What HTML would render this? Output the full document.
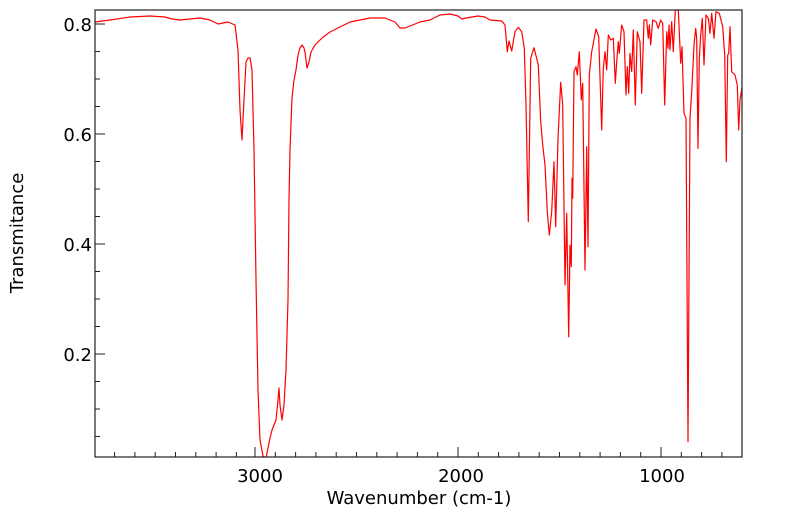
<!DOCTYPE html>
<html><head><style>
html,body{margin:0;padding:0;background:#fff;}
svg{display:block;}
text{font-family:"DejaVu Sans","Liberation Sans",sans-serif;}
</style></head><body>
<svg width="799" height="516" xmlns="http://www.w3.org/2000/svg">
<rect x="0" y="0" width="799" height="516" fill="#fff"/>
<defs><clipPath id="c"><rect x="95" y="10" width="647" height="447"/></clipPath></defs>
<polyline clip-path="url(#c)" fill="none" stroke="#ff0000" stroke-width="1.2" stroke-linejoin="round" points="
95,22 110,20 130,17 150,16 165,17 172,19 180,20 190,19 200,18 210,20 218,24 228,22 235,25 238,50 240,110 242,140 244,100 246,62 248,58 250,58 252,70 254,150 256,280 258,390 260,440 263,456 266,458 268,448 270,438 272,430 276,420 278,400 279,388 280,405 282,420 284,405 286,370 288,300 289,200 290,150 292,98 294,80 296,70 298,55 300,48 302,45 304,48 305,52 307,68 309,62 311,52 315,45 322,38 330,32 340,27 350,22 360,20 370,18 385,18 395,22 400,28 405,28 410,26 420,22 430,20 440,15 450,14 458,16 462,19 466,18 472,17 478,16 485,17 490,20 501.7,21 505,25 507.3,51.7 509,41 511.7,51 515,31.7 518.3,27.3 521.7,31.7 524.3,48.3 526,105 528.3,221.7 530.7,58.3 534,47.7 538.3,65 540.7,121.7 542.7,145 545,165 547.3,211.7 549.3,235 551.7,211.7 554,161.7 555.7,226.7 558,138.3 560.7,82.3 562.7,105 565,285 566.7,213.3 568.7,336.7 570,245 571.3,266.7 572,178.3 572.7,198.3 574,71.7 576,66.7 577.3,75 579.3,51.7 581.3,100 582.7,83.3 585,270 586.7,146.7 588,246.7 589.3,75 591.7,51.7 596,29 598.7,36.7 601.7,130 603.3,68.3 605,51.7 606.7,70 608.3,35 610.7,40 613.3,38.3 615.3,83.3 616.7,61.7 618.3,41.7 619.3,53.3 621.7,25 624,31.7 626,95 627.3,66.7 628.7,93.3 630,53.3 631.7,71.7 633.3,30 635.3,105 637.3,31.7 640,41.7 641.7,93.3 644,20 646.7,20 648.3,38.3 649.3,25 650.7,45 652.7,20 656,21.7 658.3,28.3 660.7,20 662.7,23.3 664.7,105 666.7,31.7 668,48.3 669,25 670,50 671.7,21.7 673.3,51.7 675.3,10 678.3,10 680.7,63.3 682,46.7 684,113.3 686,118.3 688,441.7 690,118.3 691.7,91.7 694,45 695.7,28.3 696.7,38.3 698,148.3 699.3,58.3 700.7,35 702.3,18.3 704,65 706,15 708.3,18.3 710,33.3 711.7,13.3 714,38.3 716,11.7 719.3,13.3 722.7,26.7 724.7,55 726.3,161.7 727.7,55 728.7,53.3 730,26.7 731.7,71.7 735,75 737.3,85 738.7,130 740,100 742.7,83.3"/>
<rect x="95" y="10" width="647" height="447" fill="none" stroke="#222" stroke-width="1.2"/>
<g stroke="#222" stroke-width="1">
<line x1="255" y1="457" x2="255" y2="447"/><line x1="458" y1="457" x2="458" y2="447"/><line x1="661" y1="457" x2="661" y2="447"/>
<line x1="114.6" y1="457" x2="114.6" y2="452"/><line x1="134.9" y1="457" x2="134.9" y2="452"/><line x1="155.2" y1="457" x2="155.2" y2="452"/><line x1="175.5" y1="457" x2="175.5" y2="452"/><line x1="195.8" y1="457" x2="195.8" y2="452"/><line x1="216.1" y1="457" x2="216.1" y2="452"/><line x1="236.4" y1="457" x2="236.4" y2="452"/>
<line x1="275.3" y1="457" x2="275.3" y2="452"/><line x1="295.6" y1="457" x2="295.6" y2="452"/><line x1="315.9" y1="457" x2="315.9" y2="452"/><line x1="336.2" y1="457" x2="336.2" y2="452"/><line x1="356.5" y1="457" x2="356.5" y2="452"/><line x1="376.8" y1="457" x2="376.8" y2="452"/><line x1="397.1" y1="457" x2="397.1" y2="452"/><line x1="417.4" y1="457" x2="417.4" y2="452"/><line x1="437.7" y1="457" x2="437.7" y2="452"/>
<line x1="478.3" y1="457" x2="478.3" y2="452"/><line x1="498.6" y1="457" x2="498.6" y2="452"/><line x1="518.9" y1="457" x2="518.9" y2="452"/><line x1="539.2" y1="457" x2="539.2" y2="452"/><line x1="559.5" y1="457" x2="559.5" y2="452"/><line x1="579.8" y1="457" x2="579.8" y2="452"/><line x1="600.1" y1="457" x2="600.1" y2="452"/><line x1="620.4" y1="457" x2="620.4" y2="452"/><line x1="640.7" y1="457" x2="640.7" y2="452"/>
<line x1="681.3" y1="457" x2="681.3" y2="452"/><line x1="701.6" y1="457" x2="701.6" y2="452"/><line x1="721.9" y1="457" x2="721.9" y2="452"/>
<line x1="95" y1="24" x2="105" y2="24"/><line x1="95" y1="134" x2="105" y2="134"/><line x1="95" y1="244" x2="105" y2="244"/><line x1="95" y1="354" x2="105" y2="354"/>
<line x1="95" y1="51.5" x2="100" y2="51.5"/><line x1="95" y1="79" x2="100" y2="79"/><line x1="95" y1="106.5" x2="100" y2="106.5"/>
<line x1="95" y1="161.5" x2="100" y2="161.5"/><line x1="95" y1="189" x2="100" y2="189"/><line x1="95" y1="216.5" x2="100" y2="216.5"/>
<line x1="95" y1="271.5" x2="100" y2="271.5"/><line x1="95" y1="299" x2="100" y2="299"/><line x1="95" y1="326.5" x2="100" y2="326.5"/>
<line x1="95" y1="381.5" x2="100" y2="381.5"/><line x1="95" y1="409" x2="100" y2="409"/><line x1="95" y1="436.5" x2="100" y2="436.5"/>
</g>
<g font-size="18" fill="#000" text-anchor="middle">
<text x="260" y="482">3000</text><text x="461" y="482">2000</text><text x="662" y="482">1000</text>
<text x="419" y="504">Wavenumber (cm-1)</text>
</g>
<g font-size="18" fill="#000" text-anchor="end">
<text x="92" y="31">0.8</text><text x="92" y="141">0.6</text><text x="92" y="251">0.4</text><text x="92" y="361">0.2</text>
</g>
<text x="23" y="233" font-size="18" fill="#000" text-anchor="middle" transform="rotate(-90 23 233)">Transmitance</text>
</svg>
</body></html>
